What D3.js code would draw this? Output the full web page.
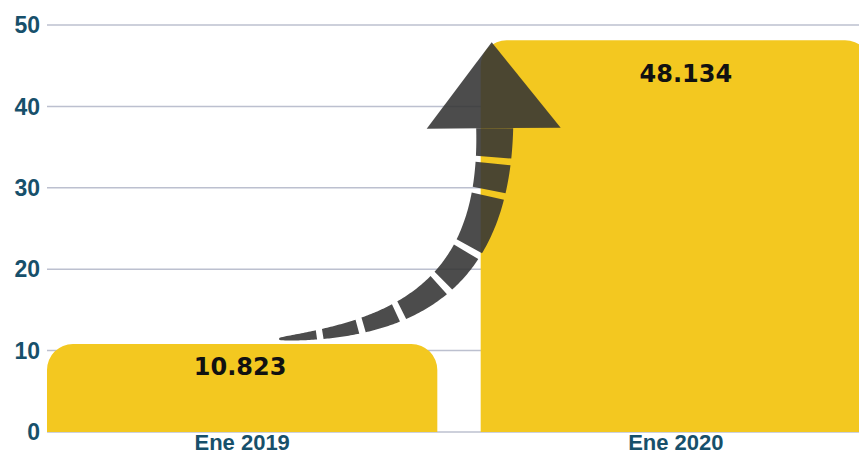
<!DOCTYPE html>
<html><head><meta charset="utf-8">
<script src="https://cdn.jsdelivr.net/npm/d3@7/dist/d3.min.js"></script>
<style>html,body{margin:0;padding:0;background:#fff;}svg{display:block;}</style>
</head><body>
<script>
const categories = ["Ene 2019", "Ene 2020"];
const values = [10.823, 48.134];
const valueLabels = ["10.823", "48.134"];
const yTicks = [0, 10, 20, 30, 40, 50];

const W = 859, H = 454;
const svg = d3.select("body").append("svg").attr("width", W).attr("height", H);

const x = d3.scaleBand().domain(categories).range([47, 871]).paddingInner(0.1).paddingOuter(0);
const y = d3.scaleLinear().domain([0, 50]).range([432, 25]);

// gridlines
svg.append("g").selectAll("line").data(yTicks).join("line")
  .attr("x1", 47).attr("x2", W)
  .attr("y1", d => y(d)).attr("y2", d => y(d))
  .attr("stroke", "#bcc0cf").attr("stroke-width", 1.5);

// y tick labels
svg.append("g").selectAll("text").data(yTicks).join("text")
  .attr("x", 40).attr("y", d => y(d)).attr("dy", "0.36em")
  .attr("text-anchor", "end")
  .attr("font-family", "'Liberation Sans', Arial, sans-serif")
  .attr("font-weight", "bold").attr("font-size", 23)
  .attr("fill", "#17506b")
  .text(d => d);

// bars with rounded top corners
function topRounded(x0, y0, w, h, r) {
  const p = d3.path();
  p.moveTo(x0, y0 + h);
  p.lineTo(x0, y0 + r);
  p.arcTo(x0, y0, x0 + r, y0, r);
  p.lineTo(x0 + w - r, y0);
  p.arcTo(x0 + w, y0, x0 + w, y0 + r, r);
  p.lineTo(x0 + w, y0 + h);
  p.closePath();
  return p.toString();
}
svg.append("g").selectAll("path").data(values).join("path")
  .attr("d", (d, i) => topRounded(x(categories[i]), y(d), x.bandwidth(), y(0) - y(d), 26))
  .attr("fill", "#f3c820");

// x axis labels
svg.append("g").selectAll("text").data(categories).join("text")
  .attr("x", d => x(d) + x.bandwidth() / 2).attr("y", 450)
  .attr("text-anchor", "middle")
  .attr("font-family", "'Liberation Sans', Arial, sans-serif")
  .attr("font-weight", "bold").attr("font-size", 22)
  .attr("fill", "#17506b")
  .text(d => d);

// decorative dashed arrow from bar 1 to bar 2
const bx1 = x(categories[0]), bx2 = x(categories[1]), bw = x.bandwidth();
const P0 = [bx1 + bw * 0.595, y(values[0]) - 5];
const P1 = [bx1 + bw * 0.903, y(values[0]) - 14];
const P2 = [bx2 + 14, y(values[0]) - 54];
const P3 = [bx2 + 14, y(values[1]) + 88];
function bez(t) {
  const a = (1 - t) ** 3, b = 3 * (1 - t) ** 2 * t, c = 3 * (1 - t) * t * t, d = t ** 3;
  return [a * P0[0] + b * P1[0] + c * P2[0] + d * P3[0], a * P0[1] + b * P1[1] + c * P2[1] + d * P3[1]];
}
function deriv(t) {
  const e = 1e-4;
  const p1 = bez(Math.max(0, t - e)), p2 = bez(Math.min(1, t + e));
  const dt = Math.min(1, t + e) - Math.max(0, t - e);
  return [(p2[0] - p1[0]) / dt, (p2[1] - p1[1]) / dt];
}
const width = t => 2 + 35 * Math.pow(t, 0.7);
const gapT = [0.115, 0.24, 0.37, 0.54, 0.68, 0.85, 0.93];
const segs = [];
let start = 0;
gapT.forEach(g => {
  const dv = deriv(g);
  const sp = Math.hypot(dv[0], dv[1]);
  const half = 3.2 / sp;
  segs.push([start, g - half]);
  start = g + half;
});
segs.push([start, 1]);
const arrowG = svg.append("g").attr("fill", "#333333").attr("fill-opacity", 0.88);
segs.forEach(([ta, tb]) => {
  const n = 20, left = [], right = [];
  for (let k = 0; k <= n; k++) {
    const t = ta + (tb - ta) * k / n;
    const p = bez(t), dv = deriv(t);
    const L = Math.hypot(dv[0], dv[1]);
    const nx = -dv[1] / L, ny = dv[0] / L;
    const w = width(t) / 2;
    left.push([p[0] + nx * w, p[1] + ny * w]);
    right.push([p[0] - nx * w, p[1] - ny * w]);
  }
  const pts = left.concat(right.reverse());
  arrowG.append("path").attr("d", "M" + pts.map(p => p.join(",")).join("L") + "Z");
});
// arrow head
const tip = [P3[0] - 3, y(values[1]) + 2];
arrowG.append("path").attr("d",
  `M${P3[0] - 68},${P3[1] + 0.5}L${tip[0]},${tip[1]}L${P3[0] + 66},${P3[1] - 0.5}Z`);

// value labels
const labelDx = [-2, 10], labelDy = [31, 42];
svg.append("g").selectAll("text").data(values).join("text")
  .attr("x", (d, i) => x(categories[i]) + bw / 2 + labelDx[i])
  .attr("y", (d, i) => y(d) + labelDy[i])
  .attr("text-anchor", "middle")
  .attr("font-family", "'DejaVu Sans', sans-serif")
  .attr("font-weight", "bold").attr("font-size", 24)
  .attr("fill", "#111")
  .text((d, i) => valueLabels[i]);
</script>
</body></html>
